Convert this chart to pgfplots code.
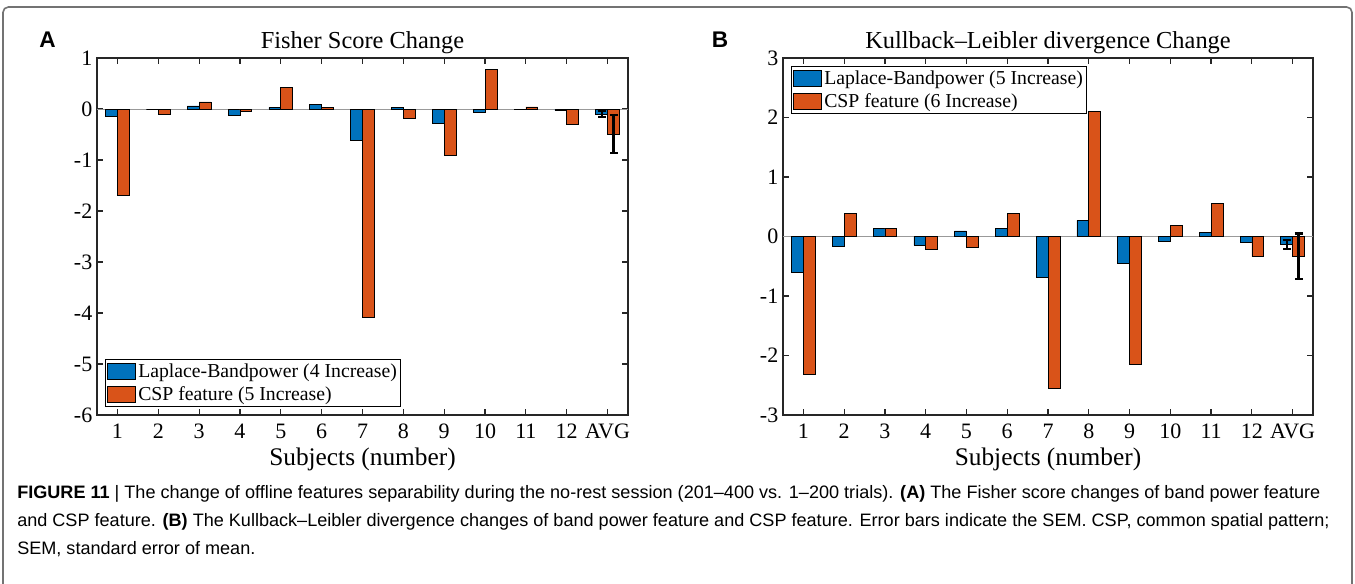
\documentclass[border=0pt]{standalone}
\usepackage{fontspec}
\setmainfont{Liberation Serif}
\newfontfamily\sansfont{Liberation Sans}
\usepackage{graphicx}
\usepackage{pgfplots}
\pgfplotsset{compat=1.18}
\definecolor{mblue}{RGB}{0,114,189}
\definecolor{morange}{RGB}{217,83,25}
\pgfplotsset{
  mystyle/.style={
    ybar, scale only axis, anchor=south west,
    height=267.75pt,
    xmin=0.5, xmax=13.5,
    xtick={1,2,3,4,5,6,7,8,9,10,11,12,13},
    xticklabels={1,2,3,4,5,6,7,8,9,10,11,12,AVG},
    tick align=inside, major tick length=4.5pt,
    axis line style={black!85, line width=0.9pt},
    tick style={black!85, line width=0.9pt},
    ticklabel style={font=\fontsize{16.5}{16.5}\selectfont},
    xticklabel style={yshift=-5.5pt, inner sep=1pt},
    title style={font=\fontsize{18.3}{18.3}\selectfont, at={(0.5,1)}, anchor=south, yshift=-6.5pt},
    xlabel style={font=\fontsize{19}{19}\selectfont, at={(0.5,0)}, anchor=center, yshift=-33.5pt, inner sep=0pt},
    xlabel={Subjects (number)},
    legend cell align=left,
    legend image code/.code={\draw[##1, line width=0.5pt] (0pt,-6pt) rectangle (21pt,6pt);},
    legend style={draw=black, line width=0.9pt, font=\fontsize{14.8}{16}\selectfont,
      inner sep=1pt, row sep=1.5pt, nodes={inner sep=2pt}},
  },
  bl/.style={fill=mblue, draw=black, line width=0.5pt, bar width=0.29, bar shift=-0.145},
  og/.style={fill=morange, draw=black, line width=0.5pt, bar width=0.29, bar shift=0.145},
  eb/.style={forget plot,
    error bars/.cd, y dir=both, y explicit,
    error bar style={draw=black, line width=1.6pt},
    error mark options={rotate=90, draw=black, mark size=3pt, line width=1.6pt}},
}
\newlength\capw
\newcommand{\lineone}{\textbf{FIGURE 11} | The change of offline features separability during the no-rest session (201–400 vs. 1–200 trials). \textbf{(A)} The Fisher score changes of band power feature}
\begin{document}%
\settowidth{\capw}{\sansfont\fontsize{13.5}{15}\selectfont\lineone}%
\pgfmathsetmacro{\capscale}{977.25/\capw}%
\begin{tikzpicture}
\path[use as bounding box] (0,0) rectangle (1016.25pt,-437.25pt);
\begin{scope}[x=0.75pt,y=-0.75pt]
\draw[black!55, line width=1.2pt, rounded corners=4pt] (3,7) -- (1352,7) -- (1352,650) -- (3,650) -- cycle;
\node[font=\sansfont\bfseries\fontsize{17}{17}\selectfont] at (47.5,40) {A};
\node[font=\sansfont\bfseries\fontsize{17}{17}\selectfont] at (720,40) {B};
\begin{scope}[font=\sansfont\fontsize{13.5}{15}\selectfont]
\node[anchor=base west, inner sep=0] at (17,498) {\scalebox{\capscale}[1]{\lineone}};
\node[anchor=base west, inner sep=0] at (17,526) {\scalebox{\capscale}[1]{and CSP feature. \textbf{(B)} The Kullback–Leibler divergence changes of band power feature and CSP feature. Error bars indicate the SEM. CSP, common spatial pattern;}};
\node[anchor=base west, inner sep=0] at (17,554) {\scalebox{\capscale}[1]{SEM, standard error of mean.}};
\end{scope}
\end{scope}

\begin{axis}[mystyle, at={(72.75pt,-311.25pt)}, width=398.25pt,
  ymin=-6, ymax=1, ytick={-6,-5,-4,-3,-2,-1,0,1},
  yticklabels={-6,-5,-4,-3,-2,-1,0,1},
  title={Fisher Score Change},
  legend style={at={(0,0)}, anchor=south west, xshift=6pt, yshift=6pt}]
\draw[black!40, line width=0.6pt] (axis cs:0.5,0) -- (axis cs:13.5,0);
\addplot[bl] coordinates {(1,-0.14) (2,0) (3,0.06) (4,-0.12) (5,0.03) (6,0.085) (7,-0.62) (8,0.03) (9,-0.29) (10,-0.07) (11,-0.01) (12,-0.03)};
\addplot[og] coordinates {(1,-1.70) (2,-0.11) (3,0.14) (4,-0.05) (5,0.42) (6,0.03) (7,-4.09) (8,-0.19) (9,-0.90) (10,0.78) (11,0.04) (12,-0.30)};
\addplot[bl, eb] coordinates {(13,-0.10) +- (0,0.065)};
\addplot[og, eb] coordinates {(13,-0.495) +- (0,0.375)};
\legend{Laplace-Bandpower (4 Increase), CSP feature (5 Increase)}
\end{axis}

\begin{axis}[mystyle, at={(587.25pt,-311.25pt)}, width=397.5pt,
  ymin=-3, ymax=3, ytick={-3,-2,-1,0,1,2,3},
  yticklabels={-3,-2,-1,0,1,2,3},
  title={Kullback–Leibler divergence Change},
  legend style={at={(0,1)}, anchor=north west, xshift=6pt, yshift=-6pt}]
\draw[black!40, line width=0.6pt] (axis cs:0.5,0) -- (axis cs:13.5,0);
\addplot[bl] coordinates {(1,-0.60) (2,-0.17) (3,0.14) (4,-0.15) (5,0.095) (6,0.14) (7,-0.68) (8,0.27) (9,-0.45) (10,-0.08) (11,0.07) (12,-0.09)};
\addplot[og] coordinates {(1,-2.31) (2,0.39) (3,0.14) (4,-0.21) (5,-0.18) (6,0.39) (7,-2.55) (8,2.10) (9,-2.14) (10,0.18) (11,0.55) (12,-0.34)};
\addplot[bl, eb] coordinates {(13,-0.135) +- (0,0.075)};
\addplot[og, eb] coordinates {(13,-0.33) +- (0,0.38)};
\legend{Laplace-Bandpower (5 Increase), CSP feature (6 Increase)}
\end{axis}
\end{tikzpicture}%
\end{document}
